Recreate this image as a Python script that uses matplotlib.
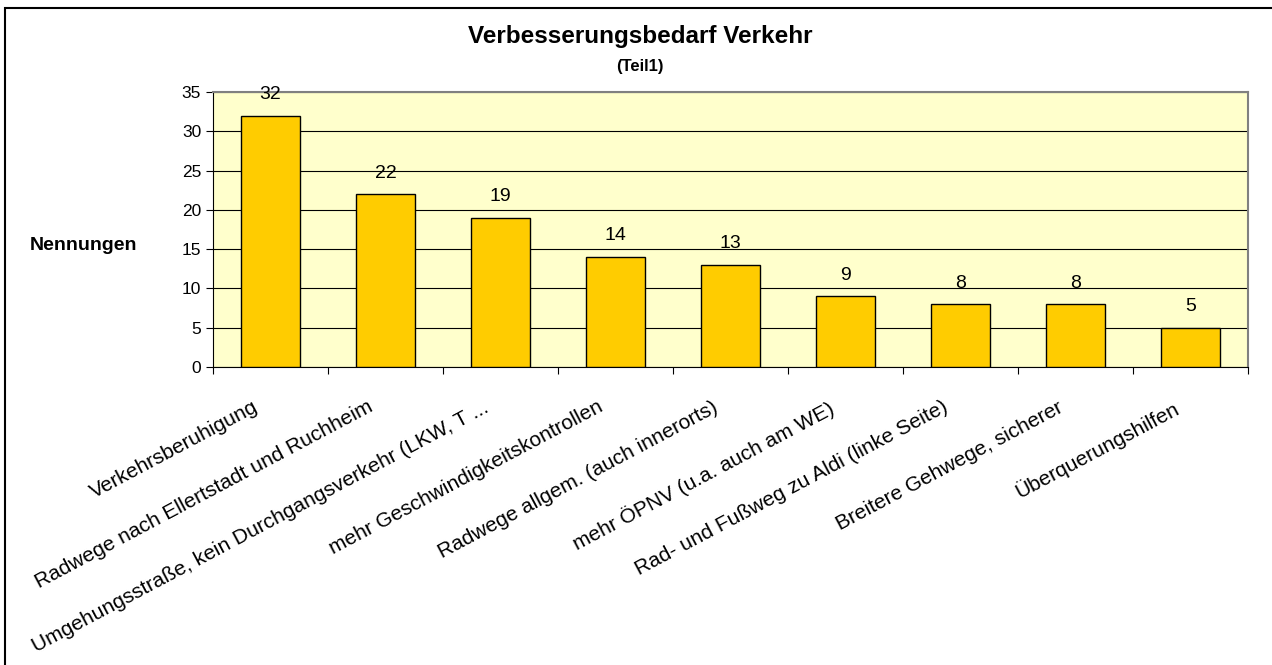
import matplotlib.pyplot as plt
import matplotlib.transforms as mtransforms
from matplotlib.patches import Rectangle

plt.rcParams['font.family'] = ['Liberation Sans', 'DejaVu Sans']

# data
categories = ['Verkehrsberuhigung', 'Radwege nach Ellertstadt und Ruchheim',
              'Umgehungsstraße, kein Durchgangsverkehr (LKW, T ...',
              'mehr Geschwindigkeitskontrollen', 'Radwege allgem. (auch innerorts)',
              'mehr ÖPNV (u.a. auch am WE)', 'Rad- und Fußweg zu Aldi (linke Seite)',
              'Breitere Gehwege, sicherer', 'Überquerungshilfen']
nennungen = [32, 22, 19, 14, 13, 9, 8, 8, 5]
yticks = [0, 5, 10, 15, 20, 25, 30, 35]

fig = plt.figure(figsize=(12.72, 6.65), dpi=100)
ax = fig.add_axes([213/1272, 1 - 367/665, (1248 - 213)/1272, (367 - 92)/665])
ax.set_facecolor('#FFFFCC')

x = range(len(categories))
ax.bar(x, nennungen, width=0.52, color='#FFCC00', edgecolor='black', linewidth=1, zorder=3)
for i, v in zip(x, nennungen):
    ax.annotate(str(v), (i, v), xytext=(0, 9), textcoords='offset points',
                ha='center', va='bottom', fontsize=14)

ax.set_xlim(-0.5, len(categories) - 0.5)
ax.set_ylim(0, 35)
ax.set_yticks(yticks)
ax.tick_params(axis='y', labelsize=12.5, length=5, direction='out')
ax.yaxis.grid(True, color='black', linewidth=0.8, zorder=0)
ax.set_axisbelow(True)

# category ticks at boundaries, labels in between
ax.set_xticks([i - 0.5 for i in range(len(categories) + 1)])
ax.set_xticklabels([])
ax.set_xticks(list(x), minor=True)
ax.set_xticklabels(categories, minor=True, rotation=28, ha='right',
                   rotation_mode='anchor', fontsize=15)
ax.tick_params(axis='x', which='major', length=5, direction='out')
ax.tick_params(axis='x', which='minor', length=0, pad=22)
shift = mtransforms.ScaledTranslation(-18/100, 0, fig.dpi_scale_trans)
for lbl in ax.get_xticklabels(minor=True):
    lbl.set_transform(lbl.get_transform() + shift)

for s in ['top', 'right']:
    ax.spines[s].set_color('#808080')
    ax.spines[s].set_linewidth(1.5)
ax.spines['left'].set_color('black')
ax.spines['bottom'].set_color('black')

fig.text(30/1272, 1 - 245/665, 'Nennungen', fontsize=14, fontweight='bold', va='center')
fig.text(640/1272, 1 - 36/665, 'Verbesserungsbedarf Verkehr', fontsize=17.5,
         fontweight='bold', ha='center', va='center')
fig.text(640/1272, 1 - 66/665, '(Teil1)', fontsize=12, fontweight='bold',
         ha='center', va='center')

# outer frame
fig.add_artist(Rectangle((5/1272, -0.01), 1.1, 1 - 8/665 + 0.01, transform=fig.transFigure,
                         fill=False, edgecolor='black', linewidth=1.5))

fig.savefig('out.png', dpi=100)
